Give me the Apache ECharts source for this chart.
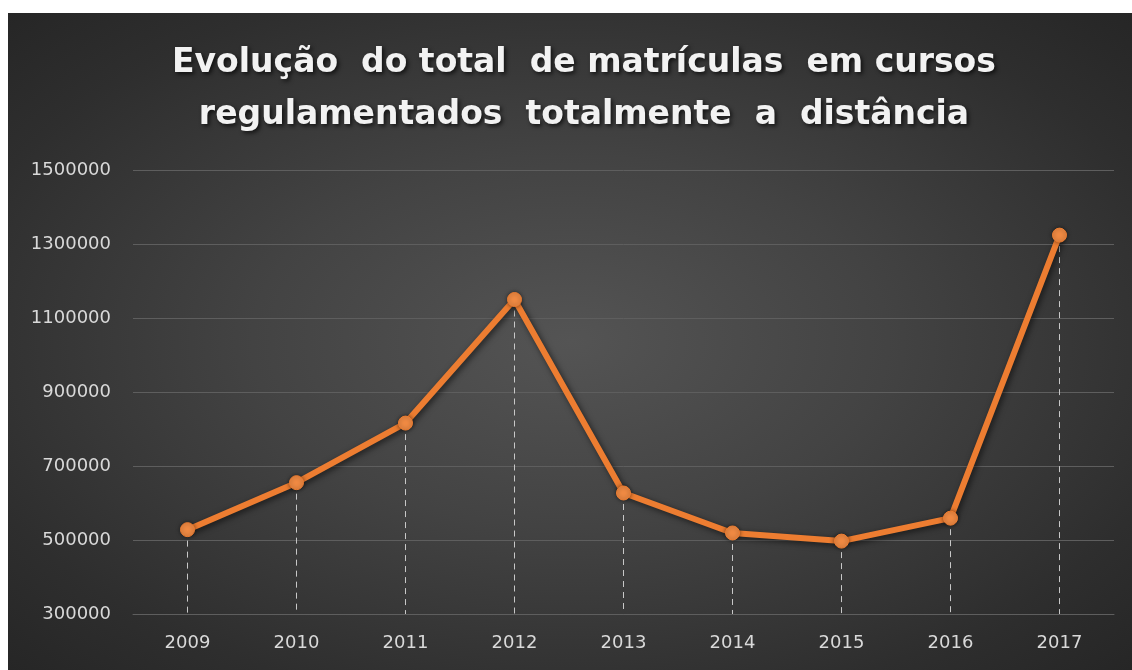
<!DOCTYPE html>
<html>
<head>
<meta charset="utf-8">
<title>Evolução do total de matrículas</title>
<script src="https://cdn.jsdelivr.net/npm/echarts@6/dist/echarts.min.js"></script>
<style>
  html, body { margin: 0; padding: 0; background: #ffffff; }
  #chart {
    position: absolute; left: 8px; top: 13px; width: 1124px; height: 657px;
    background: radial-gradient(ellipse at 50% 50%, #545454 0%, #434343 40%, #2e2e2e 80%, #262626 100%);
  }
</style>
</head>
<body>
<div id="chart"></div>
<script>
// dados
var anos = ['2009', '2010', '2011', '2012', '2013', '2014', '2015', '2016', '2017'];
var matriculas = [528000, 655000, 816000, 1150000, 627000, 519000, 497000, 559000, 1324000];
var eixoY = { min: 300000, max: 1500000, passo: 200000 };
var titulo = 'Evolução  do total  de matrículas  em cursos\nregulamentados  totalmente  a  distância';

var chart = echarts.init(document.getElementById('chart'), null, { renderer: 'canvas' });

// linhas tracejadas de cada ponto até o eixo
var quedas = matriculas.map(function (v, i) {
  return [{ coord: [i, v] }, { coord: [i, eixoY.min] }];
});

var option = {
  backgroundColor: 'transparent',
  title: {
    text: titulo,
    left: 571,
    textAlign: 'center',
    top: 19,
    textStyle: {
      color: '#f2f2f2',
      fontFamily: 'DejaVu Sans',
      fontWeight: 'bold',
      fontSize: 33,
      lineHeight: 52,
      textShadowColor: 'rgba(0,0,0,0.7)',
      textShadowBlur: 4,
      textShadowOffsetX: 2,
      textShadowOffsetY: 2
    }
  },
  grid: { left: 125, right: 18, top: 157, bottom: 56 },
  xAxis: {
    type: 'category',
    data: anos,
    boundaryGap: true,
    axisLine: { show: true, lineStyle: { color: '#5e5e5e', width: 1 } },
    axisTick: { show: false },
    axisLabel: { color: '#d9d9d9', fontSize: 18, fontFamily: 'DejaVu Sans', margin: 20 }
  },
  yAxis: {
    type: 'value',
    min: eixoY.min,
    max: eixoY.max,
    interval: eixoY.passo,
    axisLine: { show: false },
    axisTick: { show: false },
    axisLabel: {
      color: '#d9d9d9', fontSize: 18, fontFamily: 'DejaVu Sans', margin: 22,
      formatter: function (v) { return String(v); }
    },
    splitLine: { lineStyle: { color: '#5e5e5e', width: 1 } }
  },
  series: [{
    type: 'line',
    data: matriculas,
    symbol: 'circle',
    symbolSize: 14,
    z: 5,
    lineStyle: {
      color: '#ed7d31', width: 6,
      shadowColor: 'rgba(0,0,0,0.6)', shadowBlur: 6, shadowOffsetX: 2, shadowOffsetY: 2
    },
    itemStyle: {
      color: '#f08a43', borderColor: '#ed7d31', borderWidth: 1,
      shadowColor: 'rgba(0,0,0,0.5)', shadowBlur: 4
    },
    markLine: {
      silent: true,
      symbol: 'none',
      label: { show: false },
      lineStyle: { type: [6, 5], color: '#c8c8c8', width: 1 },
      z: 1,
      data: quedas
    }
  }]
};

chart.setOption(option);
</script>
</body>
</html>
